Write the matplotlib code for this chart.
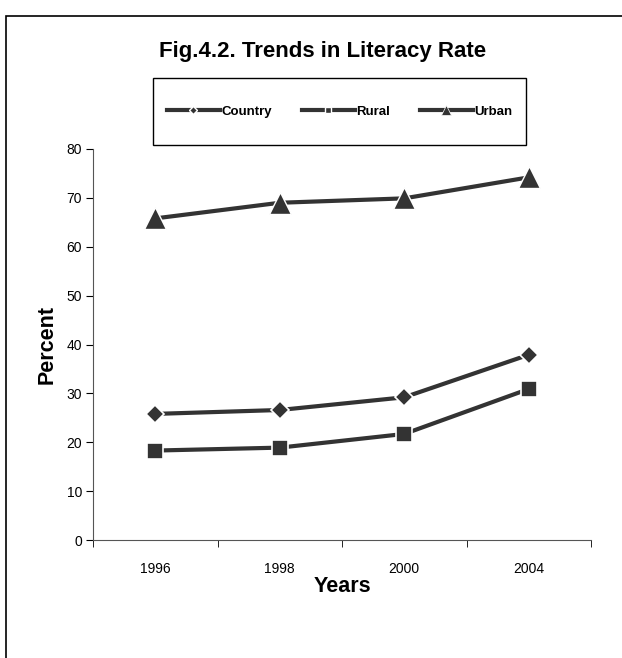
import matplotlib
matplotlib.use('Agg')
import matplotlib.pyplot as plt
from matplotlib.lines import Line2D
from matplotlib.patches import Rectangle

# data
years = ['1996', '1998', '2000', '2004']
country = [25.8, 26.6, 29.2, 37.9]
rural = [18.3, 18.9, 21.7, 30.9]
urban = [65.8, 69.0, 69.9, 74.2]

plt.rcParams['font.family'] = ['Liberation Sans', 'DejaVu Sans']
dark = '#333333'

fig = plt.figure(figsize=(6.22, 6.58), dpi=100)
ax = fig.add_axes([93/622, 1-540/658, 498/622, 391/658])

# outer frame (right and bottom edges cropped off in the reference)
fig.patches.append(Rectangle((6/622, -0.05), 1.2, 1-16/658+0.05,
                             transform=fig.transFigure, fill=False,
                             edgecolor='black', linewidth=1.2))
# legend box
fig.patches.append(Rectangle((153/622, 1-145/658), 373/622, 67/658,
                             transform=fig.transFigure, fill=False,
                             edgecolor='black', linewidth=1.0))

x = range(len(years))
ax.plot(x, country, color=dark, lw=3, marker='D', ms=9,
        mec='white', mew=1.2)
ax.plot(x, rural, color=dark, lw=3, marker='s', ms=12,
        mec='white', mew=1.2)
ax.plot(x, urban, color=dark, lw=3, marker='^', ms=16,
        mec='white', mew=1.0)

ax.set_xlim(-0.5, len(years) - 0.5)
ax.set_ylim(0, 80)
ax.set_yticks(range(0, 81, 10))
ax.set_xticks(x)
ax.set_xticklabels(years)
ax.set_xticks([i - 0.5 for i in range(len(years) + 1)], minor=True)
ax.tick_params(axis='x', which='major', length=0, pad=16, labelsize=10)
ax.tick_params(axis='x', which='minor', length=5, direction='out')
ax.tick_params(axis='y', length=5, direction='out', labelsize=10, pad=3)

for s in ['top', 'right']:
    ax.spines[s].set_visible(False)
ax.spines['left'].set_color('#555555')
ax.spines['bottom'].set_color('#555555')

ax.set_xlabel('Years', fontsize=15.5, fontweight='bold', labelpad=0)
ax.set_ylabel('Percent', fontsize=15.5, fontweight='bold', labelpad=6)

fig.text(323/622, 1-51/658, 'Fig.4.2. Trends in Literacy Rate',
         ha='center', va='center', fontsize=16, fontweight='bold')

handles = [
    Line2D([], [], color=dark, lw=3, marker='D', ms=4, mec='white', mew=1, mfc=dark),
    Line2D([], [], color=dark, lw=3, marker='s', ms=5, mec='white', mew=1),
    Line2D([], [], color=dark, lw=3, marker='^', ms=7, mec='white', mew=0.5),
]
fig.legend(handles, ['Country', 'Rural', 'Urban'], ncol=3,
           loc='center', mode='expand',
           bbox_to_anchor=(167/622, 1-145/658, 345/622, 67/658),
           frameon=False, borderpad=0, handlelength=4.0, handletextpad=0.1,
           prop={'weight': 'bold', 'size': 9.5}, borderaxespad=0)

fig.savefig('out.png', dpi=100)
